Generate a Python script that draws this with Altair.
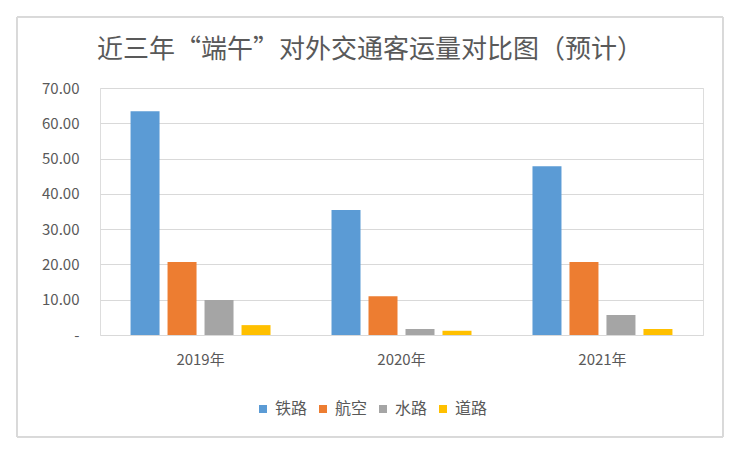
import altair as alt
import pandas as pd

years = ["2019年", "2020年", "2021年"]
modes = ["铁路", "航空", "水路", "道路"]
rail = [63.4, 35.4, 47.8]
air = [20.7, 11.0, 20.7]
water = [9.9, 1.7, 5.7]
road = [2.8, 1.2, 1.7]
colors = ["#5b9bd5", "#ed7d31", "#a5a5a5", "#ffc000"]

series = [rail, air, water, road]
rows = []
for m, vals in zip(modes, series):
    for y, v in zip(years, vals):
        rows.append({"year": y, "mode": m, "value": v})
df = pd.DataFrame(rows)

FONT = "Noto Sans CJK SC"
TXT = "#595959"

bars = alt.Chart(df).mark_bar().encode(
    x=alt.X("year:N", sort=years,
            scale=alt.Scale(paddingInner=0.3035, paddingOuter=0.152),
            axis=alt.Axis(title=None, labelAngle=0, domain=False, ticks=False,
                          labelFontSize=15, labelColor=TXT, labelFont=FONT,
                          labelPadding=17)),
    xOffset=alt.XOffset("mode:N", sort=modes,
                        scale=alt.Scale(paddingInner=0.216, paddingOuter=0)),
    y=alt.Y("value:Q",
            scale=alt.Scale(domain=[0, 70], nice=False),
            axis=alt.Axis(title=None, values=[0, 10, 20, 30, 40, 50, 60, 70],
                          labelExpr="datum.value == 0 ? '-\u00a0\u00a0' : format(datum.value, '.2f')",
                          domain=False, ticks=False, tickSize=0, labelPadding=21,
                          labelFontSize=15, labelColor=TXT, labelFont=FONT,
                          gridColor="#d9d9d9", gridWidth=1)),
    color=alt.Color("mode:N", sort=modes,
                    scale=alt.Scale(domain=modes, range=colors),
                    legend=alt.Legend(title=None, orient="none", direction="horizontal",
                                      legendX=155, legendY=313, symbolType="square",
                                      symbolSize=64, symbolStrokeWidth=0,
                                      labelFontSize=16, labelColor=TXT, labelFont=FONT,
                                      labelOffset=4, columnPadding=7, padding=0)),
)

frame = alt.Chart(df).mark_rect(fill=None, stroke="#d9d9d9", strokeWidth=1).encode(
    x=alt.value(-83), x2=alt.value(623), y=alt.value(-71), y2=alt.value(349)
)

chart = alt.layer(frame, bars).properties(
    width=603, height=247,
    autosize=alt.AutoSizeParams(type="none"),
    padding={"left": 92, "top": 80, "right": 28, "bottom": 108},
    title=alt.TitleParams("近三年“端午”对外交通客运量对比图（预计）", anchor="start", dx=-3,
                          frame="group", offset=0, dy=46, fontSize=26, font=FONT,
                          fontWeight="normal", color=TXT),
).configure_view(stroke=None).configure(background="white")

chart.save("out.html", embed_options={"renderer": "svg", "actions": False})
